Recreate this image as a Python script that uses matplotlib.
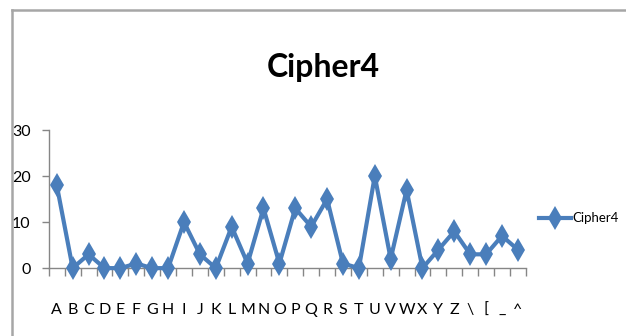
import matplotlib.pyplot as plt
from matplotlib.lines import Line2D

# -----------------------------
# Data
# -----------------------------
categories = list("ABCDEFGHIJKLMNOPQRSTUVWXYZ") + ["\\", "[", "_", "^"]
cipher4 = [18, 0, 3, 0, 0, 1, 0, 0, 10, 3, 0, 9, 1, 13, 1,
           13, 9, 15, 1, 0, 20, 2, 17, 0, 4, 8, 3, 3, 7, 4]
yticks = [0, 10, 20, 30]

# -----------------------------
# Style
# -----------------------------
plt.rcParams['font.family'] = ['Lato', 'DejaVu Sans']
blue = '#4a7ebb'
axis_gray = '#868686'

fig = plt.figure(figsize=(6.26, 3.36), dpi=100)
ax = fig.add_axes([0.078, 0.202, 0.762, 0.411])

x = range(len(categories))
ax.plot(x, cipher4, color=blue, lw=3, marker='d', markersize=12,
        markeredgewidth=0, label='Cipher4', clip_on=False, zorder=3)

ax.set_xlim(-0.5, len(categories) - 0.5)
ax.set_ylim(0, 30)

# category labels centred, tick marks between categories
ax.set_xticks(list(x))
ax.set_xticklabels(categories, fontsize=11.5)
ax.set_xticks([i - 0.5 for i in range(len(categories) + 1)], minor=True)
ax.tick_params(axis='x', which='major', length=0, pad=25)
ax.tick_params(axis='x', which='minor', length=6, width=1, color=axis_gray, direction='out')

ax.set_yticks(yticks)
ax.tick_params(axis='y', labelsize=11.5, length=5, width=1, color=axis_gray, pad=8)

for side in ['top', 'right']:
    ax.spines[side].set_visible(False)
for side in ['left', 'bottom']:
    ax.spines[side].set_color(axis_gray)
    ax.spines[side].set_linewidth(1)

fig.text(0.516, 0.772, 'Cipher4', ha='center', va='baseline',
         fontsize=23, fontweight='bold')

ax.legend(loc='center left', bbox_to_anchor=(1.0, 0.36), frameon=False,
          fontsize=9.5, handlelength=2.4, handletextpad=0.1, borderpad=0.2,
          borderaxespad=0.8)

# chart frame (partially visible)
frame = '#a6a6a6'
fig.add_artist(Line2D([0.019, 1.0], [0.970, 0.970], color=frame, lw=1.8))
fig.add_artist(Line2D([0.019, 0.019], [0.0, 0.970], color=frame, lw=1.8))

fig.savefig('out.png', dpi=100)
